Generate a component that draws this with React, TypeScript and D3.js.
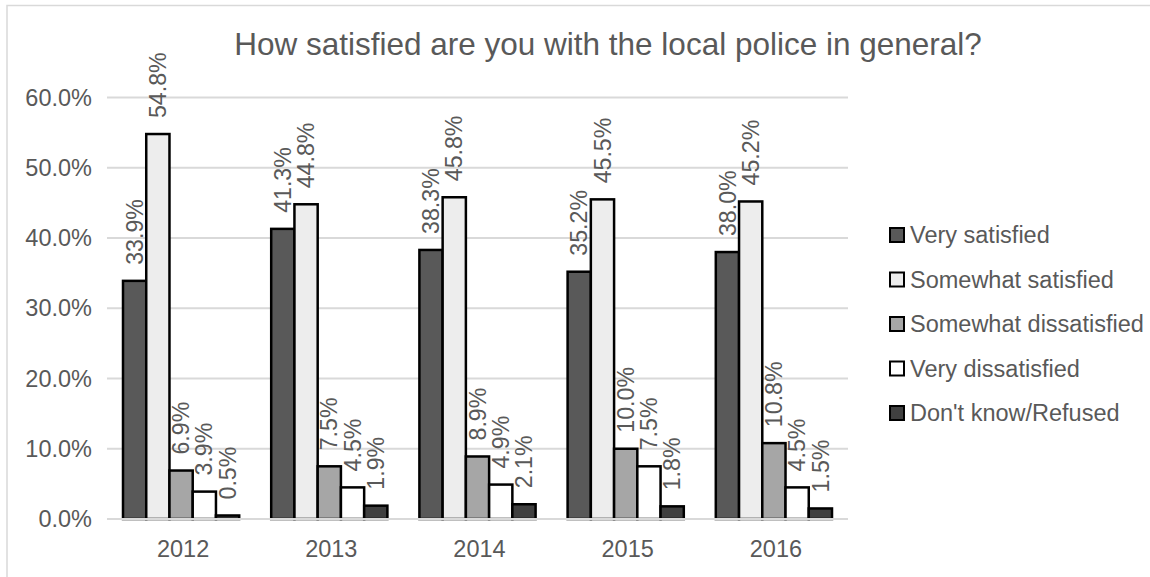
import React from "react";
import * as d3 from "d3";

const years = ["2012", "2013", "2014", "2015", "2016"];
const seriesNames = [
  "Very satisfied",
  "Somewhat satisfied",
  "Somewhat dissatisfied",
  "Very dissatisfied",
  "Don't know/Refused",
];
const verySatisfied = [33.9, 41.3, 38.3, 35.2, 38.0];
const somewhatSatisfied = [54.8, 44.8, 45.8, 45.5, 45.2];
const somewhatDissatisfied = [6.9, 7.5, 8.9, 10.0, 10.8];
const veryDissatisfied = [3.9, 4.5, 4.9, 7.5, 4.5];
const dontKnow = [0.5, 1.9, 2.1, 1.8, 1.5];
const yTicks = [0, 10, 20, 30, 40, 50, 60];
const colors = ["#595959", "#ededed", "#a6a6a6", "#ffffff", "#404040"];

const allSeries = [verySatisfied, somewhatSatisfied, somewhatDissatisfied, veryDissatisfied, dontKnow];

export default function App() {
  const W = 1150, H = 577;
  const left = 107, right = 848, top = 97.5, bottom = 519;
  const x = d3.scaleBand<string>().domain(years).range([left, right]).paddingInner(0).paddingOuter(0);
  const y = d3.scaleLinear().domain([0, 60]).range([bottom, top]);
  const inner = d3.scaleBand<number>().domain(d3.range(5)).range([16, x.bandwidth() - 16]);
  const font = "'Liberation Sans', Arial, sans-serif";
  const txt = "#595959";
  const fmt = (v: number) => v.toFixed(1) + "%";
  return (
    <svg width={W} height={H} style={{ position: "absolute", left: 0, top: 0, fontFamily: font }}>
      <rect x={0} y={0} width={W} height={H} fill="#fff" />
      <rect x={7} y={5.5} width={W + 20} height={H + 20} fill="none" stroke="#d9d9d9" strokeWidth={1.5} />
      <text x={608} y={55} textAnchor="middle" fontSize={31.5} fill={txt}>
        How satisfied are you with the local police in general?
      </text>
      {yTicks.map((t) => (
        <g key={t}>
          <line x1={left} x2={right} y1={y(t)} y2={y(t)} stroke="#d9d9d9" strokeWidth={2} />
          <text x={92} y={y(t)} dy="0.35em" textAnchor="end" fontSize={23.5} fill={txt}>
            {t.toFixed(1) + "%"}
          </text>
        </g>
      ))}
      {years.map((yr, i) => (
        <g key={yr}>
          {allSeries.map((s, k) => {
            const bx = (x(yr) as number) + (inner(k) as number);
            const bw = inner.bandwidth();
            const v = s[i];
            const cx = bx + bw / 2;
            const ly = y(v) - 16;
            return (
              <g key={k}>
                <rect x={bx} y={y(v)} width={bw} height={bottom - y(v)} fill={colors[k]} stroke="#000" strokeWidth={2.5} />
                <text
                  transform={`translate(${cx},${ly}) rotate(-90)`}
                  dy="0.35em"
                  fontSize={23.2}
                  fill={txt}
                >
                  {fmt(v)}
                </text>
              </g>
            );
          })}
          <text x={(x(yr) as number) + x.bandwidth() / 2 + 2} y={557} textAnchor="middle" fontSize={23.5} fill={txt}>
            {yr}
          </text>
        </g>
      ))}
      <line x1={left} x2={right} y1={bottom} y2={bottom} stroke="#d9d9d9" strokeWidth={2} />
      {seriesNames.map((n, k) => {
        const ly = 235 + k * 44.5;
        return (
          <g key={n}>
            <rect x={890} y={ly - 7} width={14} height={14} fill={colors[k]} stroke="#000" strokeWidth={2} />
            <text x={910} y={ly} dy="0.35em" fontSize={23.5} fill={txt}>
              {n}
            </text>
          </g>
        );
      })}
    </svg>
  );
}
